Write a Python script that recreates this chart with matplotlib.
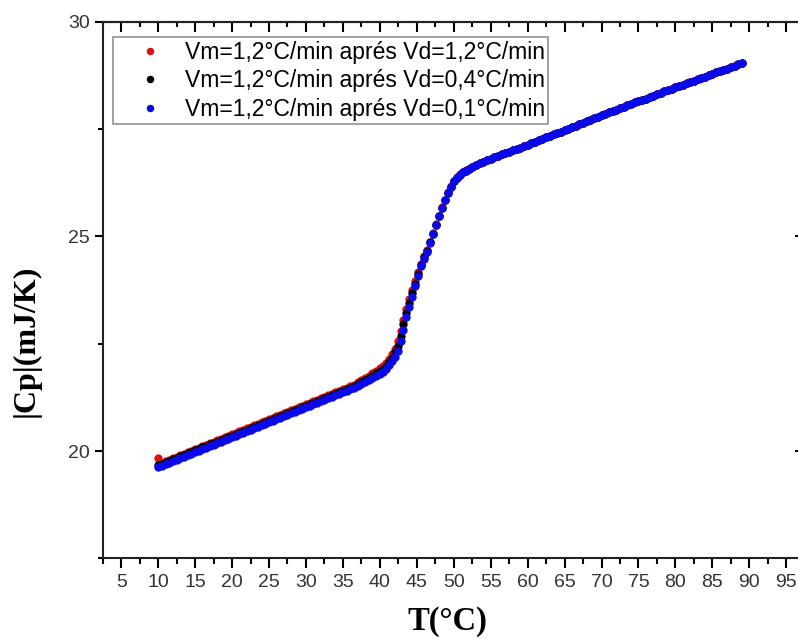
import matplotlib.pyplot as plt
from matplotlib.ticker import MultipleLocator

# temperature (°C) of each measured point
temp_low = [10.0, 10.5, 11.0, 11.5, 12.0, 12.5, 13.0, 13.5, 14.0, 14.5,
            15.0, 15.5, 16.0, 16.5, 17.0, 17.5, 18.0, 18.5, 19.0, 19.5,
            20.0, 20.5, 21.0, 21.5, 22.0, 22.5, 23.0, 23.5, 24.0, 24.5,
            25.0, 25.5, 26.0, 26.5, 27.0, 27.5, 28.0, 28.5, 29.0, 29.5,
            30.0, 30.5, 31.0, 31.5, 32.0, 32.5, 33.0, 33.5, 34.0, 34.5,
            35.0, 35.5, 36.0, 36.5, 37.0, 37.5, 38.0, 38.5, 39.0, 39.5, 40.0]
temp_mid = [40.4, 40.8, 41.2, 41.6, 42.0, 42.4, 42.8, 43.2, 43.6, 44.0,
            44.4, 44.8, 45.2, 45.6, 46.0, 46.4, 46.8, 47.2, 47.6, 48.0,
            48.4, 48.8, 49.2, 49.6, 50.0, 50.4, 50.8, 51.2, 51.6, 52.0]
temp_high = [52.5, 53.0, 53.5, 54.0, 54.5, 55.0, 55.5, 56.0, 56.5, 57.0,
             57.5, 58.0, 58.5, 59.0, 59.5, 60.0, 60.5, 61.0, 61.5, 62.0,
             62.5, 63.0, 63.5, 64.0, 64.5, 65.0, 65.5, 66.0, 66.5, 67.0,
             67.5, 68.0, 68.5, 69.0, 69.5, 70.0, 70.5, 71.0, 71.5, 72.0,
             72.5, 73.0, 73.5, 74.0, 74.5, 75.0, 75.5, 76.0, 76.5, 77.0,
             77.5, 78.0, 78.5, 79.0, 79.5, 80.0, 80.5, 81.0, 81.5, 82.0,
             82.5, 83.0, 83.5, 84.0, 84.5, 85.0, 85.5, 86.0, 86.5, 87.0,
             87.5, 88.0, 88.5, 89.0]
temp = temp_low + temp_mid + temp_high

# above ~52 °C the three runs coincide
cp_high = [26.62, 26.67, 26.70, 26.74, 26.77, 26.81, 26.84, 26.87, 26.91, 26.94,
           26.97, 27.01, 27.04, 27.07, 27.11, 27.14, 27.17, 27.21, 27.24, 27.27,
           27.31, 27.34, 27.38, 27.41, 27.44, 27.48, 27.51, 27.54, 27.58, 27.61,
           27.65, 27.68, 27.71, 27.75, 27.78, 27.82, 27.85, 27.89, 27.92, 27.95,
           27.99, 28.02, 28.05, 28.08, 28.12, 28.15, 28.18, 28.21, 28.25, 28.28,
           28.31, 28.34, 28.38, 28.41, 28.44, 28.47, 28.50, 28.53, 28.57, 28.60,
           28.63, 28.66, 28.69, 28.72, 28.76, 28.79, 28.82, 28.85, 28.88, 28.91,
           28.95, 28.98, 29.01, 29.04]

# Vd = 1,2 °C/min (red)
cp_red = [19.84, 19.73, 19.77, 19.80, 19.84, 19.87, 19.91, 19.94, 19.98, 20.01,
          20.05, 20.08, 20.12, 20.15, 20.19, 20.22, 20.25, 20.29, 20.32, 20.36,
          20.39, 20.43, 20.46, 20.50, 20.53, 20.57, 20.60, 20.64, 20.67, 20.71,
          20.74, 20.78, 20.81, 20.85, 20.88, 20.92, 20.95, 20.99, 21.02, 21.06,
          21.09, 21.13, 21.16, 21.20, 21.23, 21.27, 21.30, 21.34, 21.37, 21.41,
          21.44, 21.48, 21.51, 21.55, 21.60, 21.65, 21.70, 21.75, 21.81, 21.87, 21.93,
          21.98, 22.06, 22.15, 22.26, 22.39, 22.56, 22.80, 23.06, 23.32, 23.55,
          23.76, 23.97, 24.17, 24.36, 24.54, 24.68, 24.87, 25.07, 25.28, 25.48,
          25.68, 25.85, 26.03, 26.17, 26.29, 26.38, 26.45, 26.50, 26.54, 26.58] + cp_high

# Vd = 0,4 °C/min (black)
cp_black = [19.67, 19.70, 19.74, 19.77, 19.81, 19.84, 19.88, 19.91, 19.95, 19.98,
            20.02, 20.05, 20.09, 20.12, 20.16, 20.19, 20.22, 20.26, 20.29, 20.33,
            20.36, 20.40, 20.43, 20.47, 20.50, 20.54, 20.57, 20.61, 20.64, 20.68,
            20.71, 20.75, 20.78, 20.82, 20.85, 20.89, 20.92, 20.96, 20.99, 21.03,
            21.06, 21.10, 21.13, 21.17, 21.20, 21.24, 21.27, 21.31, 21.34, 21.38,
            21.41, 21.45, 21.48, 21.52, 21.56, 21.60, 21.65, 21.70, 21.75, 21.81, 21.87,
            21.92, 21.99, 22.08, 22.18, 22.30, 22.45, 22.68, 22.95, 23.22, 23.46,
            23.68, 23.90, 24.12, 24.33, 24.51, 24.66, 24.86, 25.06, 25.27, 25.47,
            25.67, 25.84, 26.02, 26.16, 26.28, 26.37, 26.44, 26.49, 26.53, 26.57] + cp_high

# Vd = 0,1 °C/min (blue)
cp_blue = [19.63, 19.66, 19.70, 19.73, 19.77, 19.80, 19.84, 19.87, 19.91, 19.94,
           19.98, 20.01, 20.05, 20.08, 20.12, 20.15, 20.18, 20.22, 20.25, 20.29,
           20.32, 20.36, 20.39, 20.43, 20.46, 20.50, 20.53, 20.57, 20.60, 20.64,
           20.67, 20.71, 20.74, 20.78, 20.81, 20.85, 20.88, 20.92, 20.95, 20.99,
           21.02, 21.06, 21.09, 21.13, 21.16, 21.20, 21.23, 21.27, 21.30, 21.34,
           21.37, 21.41, 21.44, 21.48, 21.52, 21.56, 21.61, 21.65, 21.70, 21.75, 21.80,
           21.85, 21.92, 22.00, 22.09, 22.20, 22.34, 22.56, 22.83, 23.12, 23.36,
           23.60, 23.84, 24.08, 24.30, 24.47, 24.64, 24.85, 25.06, 25.27, 25.47,
           25.67, 25.84, 26.02, 26.16, 26.28, 26.37, 26.44, 26.49, 26.53, 26.57] + cp_high

labels = ['Vm=1,2°C/min aprés Vd=1,2°C/min',
          'Vm=1,2°C/min aprés Vd=0,4°C/min',
          'Vm=1,2°C/min aprés Vd=0,1°C/min']

plt.rcParams['font.family'] = ['Liberation Sans', 'DejaVu Sans']

fig = plt.figure(figsize=(7.98, 6.39), dpi=100)
ax = fig.add_axes([0.1287, 0.126, 0.877, 0.840])

ax.plot(temp, cp_red, 'o', color='#e01010', ms=6, mew=0, label=labels[0])
ax.plot(temp, cp_black, 'o', color='black', ms=6, mew=0, label=labels[1])
ax.plot(temp, cp_blue, 'o', color='#0a0ae8', ms=6, mew=0, label=labels[2])

ax.set_xlim(2.5, 97.2)
ax.set_ylim(17.5, 30)
ax.xaxis.set_major_locator(MultipleLocator(5))
ax.xaxis.set_minor_locator(MultipleLocator(2.5))
ax.yaxis.set_major_locator(MultipleLocator(5))
ax.yaxis.set_minor_locator(MultipleLocator(2.5))

for sp in ax.spines.values():
    sp.set_linewidth(1.5)
    sp.set_color('#222222')

ax.tick_params(axis='x', which='major', direction='out', length=7.5, width=1.5,
               labelsize=14, labelcolor='#333333', pad=4)
ax.tick_params(axis='x', which='minor', direction='out', length=4.5, width=1.5)
ax.tick_params(axis='y', which='major', direction='out', length=5.5, width=1.5,
               labelsize=14, labelcolor='#333333', pad=4)
ax.tick_params(axis='y', which='minor', direction='out', length=3.5, width=1.5)

# top and right ticks point inward
top = ax.secondary_xaxis('top')
top.xaxis.set_major_locator(MultipleLocator(5))
top.xaxis.set_minor_locator(MultipleLocator(2.5))
top.tick_params(which='major', direction='in', length=7, width=1.5, labeltop=False)
top.tick_params(which='minor', direction='in', length=3.5, width=1.5)
top.spines['top'].set_linewidth(1.5)

right = ax.secondary_yaxis('right')
right.yaxis.set_major_locator(MultipleLocator(5))
right.yaxis.set_minor_locator(MultipleLocator(2.5))
right.tick_params(which='major', direction='in', length=6, width=1.5, labelright=False)
right.tick_params(which='minor', direction='in', length=3.5, width=1.5)

ax.set_xlabel('T(°C)', family='Liberation Serif', fontweight='bold', fontsize=23.5,
              va='center')
ax.xaxis.set_label_coords(0.492, -0.118)
ax.set_ylabel('|Cp|(mJ/K)', family='Liberation Serif', fontweight='bold', fontsize=23,
              va='center')
ax.yaxis.set_label_coords(-0.110, 0.405)

leg = ax.legend(loc='upper left', bbox_to_anchor=(0.0143, 0.971), borderaxespad=0,
                fontsize=16.5, frameon=True, fancybox=False, handlelength=2.95,
                handletextpad=0.05, labelspacing=0.24, borderpad=0.15,
                numpoints=1, markerscale=0.9)
leg.get_frame().set_edgecolor('#777777')
leg.get_frame().set_linewidth(1.2)

fig.savefig('out.png', dpi=100)
